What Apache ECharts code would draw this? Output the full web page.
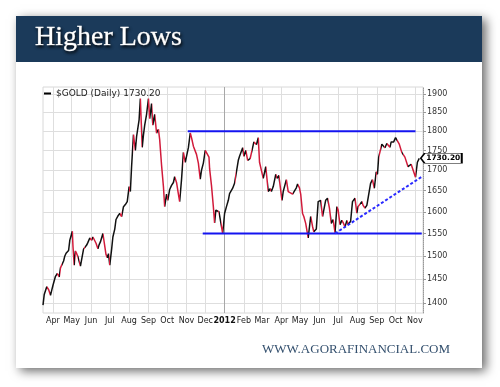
<!DOCTYPE html>
<html><head><meta charset="utf-8">
<script src="https://cdn.jsdelivr.net/npm/echarts@6/dist/echarts.min.js"></script>
<style>html,body{margin:0;padding:0;background:#fff;}#c{width:500px;height:387px;}</style>
</head><body><div id="c"></div>
<script>
const titleText = 'Higher Lows';
const footerText = 'WWW.AGORAFINANCIAL.COM';
const seriesName = '$GOLD (Daily)';
const lastValueText = '1730.20';

const dates = [
'2011-03-16','2011-03-18','2011-03-22','2011-03-25','2011-03-28','2011-03-31','2011-04-01','2011-04-05','2011-04-08','2011-04-11',
'2011-04-13','2011-04-15','2011-04-18','2011-04-20','2011-04-22','2011-04-26','2011-04-28','2011-05-02','2011-05-03','2011-05-05',
'2011-05-07','2011-05-09','2011-05-11','2011-05-13','2011-05-15','2011-05-18','2011-05-20','2011-05-23','2011-05-25','2011-05-27',
'2011-05-30','2011-06-02','2011-06-04','2011-06-07','2011-06-09','2011-06-12','2011-06-14','2011-06-16','2011-06-20','2011-06-25',
'2011-06-27','2011-06-29','2011-07-01','2011-07-04','2011-07-06','2011-07-09','2011-07-11','2011-07-14','2011-07-17','2011-07-20',
'2011-07-23','2011-07-26','2011-07-29','2011-08-01','2011-08-03','2011-08-05','2011-08-08','2011-08-11','2011-08-13','2011-08-15',
'2011-08-17','2011-08-19','2011-08-22','2011-08-24','2011-08-26','2011-08-29','2011-09-01','2011-09-03','2011-09-06','2011-09-08',
'2011-09-11','2011-09-14','2011-09-17','2011-09-19','2011-09-22','2011-09-25','2011-09-27','2011-09-30','2011-10-02','2011-10-05',
'2011-10-08','2011-10-11','2011-10-13','2011-10-16','2011-10-19','2011-10-21','2011-10-24','2011-10-27','2011-10-30','2011-11-01',
'2011-11-04','2011-11-07','2011-11-09','2011-11-12','2011-11-15','2011-11-17','2011-11-20','2011-11-23','2011-11-25','2011-11-28',
'2011-12-01','2011-12-04','2011-12-07','2011-12-08','2011-12-11','2011-12-14','2011-12-16','2011-12-18','2011-12-21','2011-12-23',
'2011-12-26','2011-12-29','2012-01-01','2012-01-04','2012-01-07','2012-01-09','2012-01-14','2012-01-17','2012-01-20','2012-01-23',
'2012-01-25','2012-01-30','2012-02-01','2012-02-04','2012-02-07','2012-02-11','2012-02-14','2012-02-17','2012-02-21','2012-02-24',
'2012-02-26','2012-02-29','2012-03-03','2012-03-07','2012-03-11','2012-03-14','2012-03-16','2012-03-19','2012-03-23','2012-03-25',
'2012-03-28','2012-04-02','2012-04-04','2012-04-09','2012-04-12','2012-04-15','2012-04-19','2012-04-21','2012-04-25','2012-04-27',
'2012-04-30','2012-05-02','2012-05-05','2012-05-07','2012-05-10','2012-05-14','2012-05-18','2012-05-21','2012-05-23','2012-05-27',
'2012-05-30','2012-06-03','2012-06-06','2012-06-08','2012-06-11','2012-06-14','2012-06-17','2012-06-20','2012-06-23','2012-06-26',
'2012-06-29','2012-07-01','2012-07-04','2012-07-07','2012-07-09','2012-07-12','2012-07-15','2012-07-17','2012-07-21','2012-07-24',
'2012-07-28','2012-07-31','2012-08-02','2012-08-05','2012-08-08','2012-08-10','2012-08-13','2012-08-16','2012-08-18','2012-08-22',
'2012-08-25','2012-08-28','2012-08-31','2012-09-02','2012-09-04','2012-09-07','2012-09-09','2012-09-12','2012-09-14','2012-09-17',
'2012-09-20','2012-09-22','2012-09-24','2012-09-28','2012-10-01','2012-10-04','2012-10-07','2012-10-09','2012-10-11','2012-10-13',
'2012-10-16','2012-10-18','2012-10-21','2012-10-24','2012-10-26','2012-10-29','2012-11-02','2012-11-05','2012-11-08'
];
const prices = [
1396,1418,1434,1428,1416,1432,1437,1456,1462,1455,
1474,1472,1489,1500,1506,1512,1535,1555,1522,1480,
1511,1505,1498,1500,1478,1500,1515,1512,1524,1530,
1540,1535,1542,1539,1528,1516,1525,1531,1550,1503,
1496,1505,1480,1515,1542,1560,1582,1590,1596,1589,
1612,1617,1624,1660,1648,1710,1791,1750,1786,1790,
1830,1888,1758,1790,1816,1845,1888,1833,1874,1816,
1845,1795,1805,1778,1713,1660,1612,1642,1627,1653,
1663,1670,1684,1670,1642,1624,1677,1745,1720,1735,
1757,1795,1783,1761,1757,1740,1718,1678,1700,1718,
1750,1745,1733,1704,1663,1612,1574,1604,1608,1600,
1604,1550,1596,1612,1627,1643,1656,1668,1665,1725,
1735,1757,1735,1750,1725,1729,1728,1772,1765,1783,
1720,1718,1680,1709,1648,1655,1648,1660,1690,1680,
1687,1627,1648,1677,1648,1645,1642,1645,1657,1666,
1657,1642,1596,1589,1573,1540,1589,1566,1554,1560,
1624,1627,1589,1604,1627,1632,1609,1573,1582,1552,
1612,1604,1570,1580,1575,1565,1580,1570,1578,1624,
1632,1597,1612,1609,1624,1615,1609,1615,1632,1668,
1677,1656,1696,1690,1733,1728,1766,1768,1757,1768,
1766,1758,1772,1772,1783,1787,1766,1762,1745,1748,
1733,1730,1709,1712,1715,1713,1683,1720,1730
];

const xTickDates = ['2011-04-01','2011-05-01','2011-06-01','2011-07-01','2011-08-01','2011-09-01','2011-10-01','2011-11-01','2011-12-01','2012-01-01',
'2012-02-01','2012-03-01','2012-04-01','2012-05-01','2012-06-01','2012-07-01','2012-08-01','2012-09-01','2012-10-01','2012-11-01'];
const xTickLabels = ['Apr','May','Jun','Jul','Aug','Sep','Oct','Nov','Dec','2012','Feb','Mar','Apr','May','Jun','Jul','Aug','Sep','Oct','Nov'];
const yTicks = [1400,1450,1500,1550,1600,1650,1700,1750,1800,1850,1900];

const resistanceDates = ['2011-11-03','2012-11-02'];
const resistanceValues = [1800,1800];
const supportDates = ['2011-11-27','2012-11-12'];
const supportValues = [1550,1550];
const trendDates = ['2012-06-26','2012-11-12'];
const trendValues = [1550,1684];

const xMinDate = '2011-03-16', xMaxDate = '2012-11-14';
const yMin = 1380, yMax = 1920;

function ts(s){const p=s.split('-').map(Number);return Date.UTC(p[0],p[1]-1,p[2]);}
const priceData = dates.map((d,i)=>[ts(d),prices[i]]);
const xTickTs = xTickDates.map(ts);
const UP='#111111', DOWN='#d11a3a';
const pieces = [];
for(let i=0;i<priceData.length-1;i++){
  pieces.push({gte:priceData[i][0], lt:priceData[i+1][0], color: priceData[i+1][1]>=priceData[i][1]?UP:DOWN});
}
const last = priceData[priceData.length-1];
const FONT = 'DejaVu Sans';

const chart = echarts.init(document.getElementById('c'));
chart.setOption({
  animation:false,
  backgroundColor:'#ffffff',
  graphic:{elements:[
    {type:'rect',z:-10,shape:{x:16,y:16,width:466,height:352},style:{fill:'#fff',shadowBlur:10,shadowColor:'rgba(0,0,0,0.6)',shadowOffsetX:4,shadowOffsetY:3}},
    {type:'rect',z:-9,shape:{x:16,y:16,width:466,height:46},style:{fill:'#1b3a5a'}}
  ]},
  title:[
    {text:titleText,left:35,top:24,padding:0,textStyle:{color:'#fff',fontSize:28,fontWeight:'normal',fontFamily:'Liberation Serif',textBorderColor:'#fff',textBorderWidth:0.4,textShadowColor:'rgba(0,0,0,0.85)',textShadowBlur:3,textShadowOffsetX:1,textShadowOffsetY:2}},
    {text:footerText,left:262,top:343,padding:0,textStyle:{color:'#34506e',fontSize:13,fontWeight:'normal',fontFamily:'Liberation Serif'}}
  ],
  legend:{left:44,top:89,padding:0,icon:'rect',itemWidth:7,itemHeight:2,
    data:[{name:seriesName+' '+lastValueText,itemStyle:{color:'#000'}}],
    textStyle:{fontSize:9,color:'#222',fontFamily:FONT}},
  grid:{left:43,right:77,top:87,bottom:74,show:true,borderColor:'#d8d8d8',borderWidth:1},
  visualMap:{type:'piecewise',show:false,dimension:0,seriesIndex:0,pieces:pieces,outOfRange:{color:UP}},
  xAxis:{type:'value',min:ts(xMinDate),max:ts(xMaxDate),
    axisLine:{show:false},
    axisTick:{show:false,customValues:xTickTs},
    axisLabel:{customValues:xTickTs,fontSize:8,color:'#222',fontFamily:FONT,margin:4,
      formatter:function(v){let bi=0,bd=Infinity;xTickTs.forEach((t,i)=>{const d=Math.abs(t-v);if(d<bd){bd=d;bi=i;}});
        const s=xTickLabels[bi];return /^\d{4}$/.test(s)?'{yr|'+s+'}':s;},
      rich:{yr:{fontWeight:'bold',fontSize:8,color:'#111',fontFamily:FONT}}},
    splitLine:{show:true,lineStyle:{color:xTickLabels.map(s=>/^\d{4}$/.test(s)?'#a8a8a8':'#dedede'),width:1}}
  },
  yAxis:{type:'log',logBase:10,position:'right',min:yMin,max:yMax,
    axisLine:{show:true,lineStyle:{color:'#999',type:'dotted'}},
    axisTick:{show:true,length:3,customValues:yTicks,lineStyle:{color:'#999'}},
    axisLabel:{customValues:yTicks,fontSize:8,color:'#333',fontFamily:FONT,margin:4,formatter:v=>String(Math.round(v))},
    splitLine:{show:true,lineStyle:{color:'#dedede',width:1}}
  },
  series:[
    {name:seriesName+' '+lastValueText,type:'line',data:priceData,showSymbol:false,symbol:'none',lineStyle:{width:1.5},z:3,
      markPoint:{silent:true,symbol:'path://M0,4 L4,0 L42,0 L42,8 L4,8 Z',symbolSize:[41,10],symbolOffset:[22,0],
        itemStyle:{color:'#fff',borderColor:'#000',borderWidth:1},
        label:{show:true,position:'inside',offset:[2,0],formatter:lastValueText,fontSize:7.5,fontWeight:'bold',color:'#000',fontFamily:FONT},
        data:[{coord:last}]}},
    {type:'line',data:resistanceDates.map((d,i)=>[ts(d),resistanceValues[i]]),symbol:'none',lineStyle:{color:'#1414f0',width:2},z:4,silent:true},
    {type:'line',data:supportDates.map((d,i)=>[ts(d),supportValues[i]]),symbol:'none',lineStyle:{color:'#1414f0',width:2},z:4,silent:true},
    {type:'line',data:trendDates.map((d,i)=>[ts(d),trendValues[i]]),symbol:'none',lineStyle:{color:'#2a2aff',width:2,type:[3,2]},z:4,silent:true}
  ]
});
</script></body></html>
